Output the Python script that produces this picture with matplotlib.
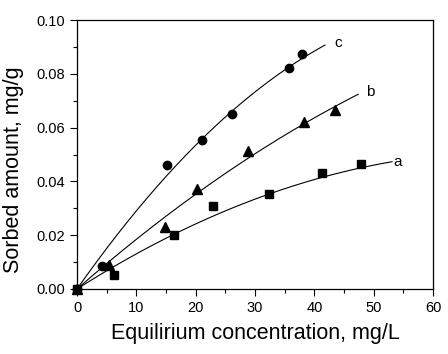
import numpy as np
import matplotlib
matplotlib.use("Agg")
import matplotlib.pyplot as plt
from matplotlib.ticker import MultipleLocator, FormatStrFormatter

# ---- data ----
a_x = [0, 6.3, 16.3, 23.0, 32.4, 41.3, 47.9]
a_y = [0.0, 0.0053, 0.0202, 0.0309, 0.0353, 0.0430, 0.0465]
b_x = [0, 5.4, 14.9, 20.3, 28.9, 38.3, 43.4]
b_y = [0.0, 0.0088, 0.0229, 0.0373, 0.0514, 0.0620, 0.0665]
c_x = [0, 4.2, 15.2, 21.1, 26.1, 35.7, 38.0]
c_y = [0.0, 0.0086, 0.0460, 0.0553, 0.0652, 0.0820, 0.0872]

# fitted curves: q = k1*C + k2*C^2, drawn from 0 to C_end
a_fit = [0.001402, -9.62e-6]
b_fit = [0.001932, -8.54e-6]
c_fit = [0.003135, -2.31e-5]
fit_end = [53.1, 47.4, 41.8]

series_names = ["a", "b", "c"]
label_pos = [(54.1, 0.0473), (49.4, 0.0733), (44.0, 0.0913)]

plt.rcParams['font.family'] = ['Liberation Sans', 'DejaVu Sans']

fig = plt.figure(figsize=(4.48, 3.54), dpi=100)
ax = fig.add_axes([77/448, 1-289/354, 356/448, 269/354])

fits = [a_fit, b_fit, c_fit]
for coef, xe in zip(fits, fit_end):
    xx = np.linspace(0, xe, 200)
    ax.plot(xx, coef[0]*xx + coef[1]*xx**2, color='black', lw=0.8, zorder=2)

ax.plot(a_x, a_y, ls='none', marker='s', ms=6, color='black', zorder=3, clip_on=False)
ax.plot(b_x, b_y, ls='none', marker='^', ms=7, color='black', zorder=3, clip_on=False)
ax.plot(c_x, c_y, ls='none', marker='o', ms=6, color='black', zorder=3, clip_on=False)

for name, (px, py) in zip(series_names, label_pos):
    ax.text(px, py, name, fontsize=11, ha='center', va='center', color='black')

ax.set_xlim(0, 60)
ax.set_ylim(0, 0.10)
ax.xaxis.set_major_locator(MultipleLocator(10))
ax.xaxis.set_minor_locator(MultipleLocator(5))
ax.yaxis.set_major_locator(MultipleLocator(0.02))
ax.yaxis.set_minor_locator(MultipleLocator(0.01))
ax.yaxis.set_major_formatter(FormatStrFormatter('%.2f'))

ax.tick_params(which='both', direction='out', top=False, right=False,
               width=0.8, labelsize=10.5, pad=3.5)
ax.tick_params(which='major', length=5)
ax.tick_params(which='minor', length=3)
for s in ax.spines.values():
    s.set_linewidth(0.9)

ax.set_xlabel("Equilirium concentration, mg/L", fontsize=15.5)
ax.set_ylabel("Sorbed amount, mg/g", fontsize=15.5)
ax.xaxis.set_label_coords(0.5, -0.128)
ax.yaxis.set_label_coords(-0.148, 0.445)

fig.savefig("out.png", dpi=100)
